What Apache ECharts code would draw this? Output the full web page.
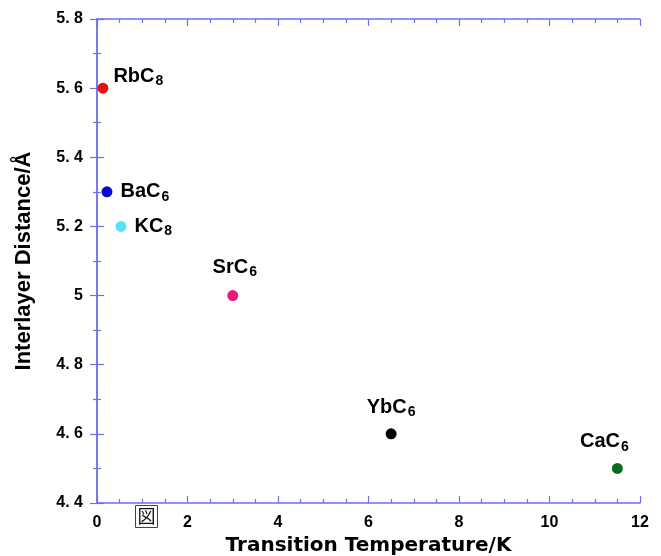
<!DOCTYPE html>
<html>
<head>
<meta charset="utf-8">
<script src="https://cdn.jsdelivr.net/npm/echarts@6/dist/echarts.min.js"></script>
<style>
  html, body { margin: 0; padding: 0; background: #fff; }
  #chart { width: 661px; height: 556px; }
</style>
</head>
<body>
<div id="chart"></div>
<script>
// compounds and their values
let names = ['RbC', 'BaC', 'KC', 'SrC', 'YbC', 'CaC']
let subs = ['8', '6', '8', '6', '6', '6']
let temps = [0.13, 0.22, 0.53, 3.0, 6.5, 11.5]
let distances = [5.6, 5.3, 5.2, 5.0, 4.6, 4.5]
let xTicks = ['0', '2', '4', '6', '8', '10', '12']
let yTicks = ['4.4', '4.6', '4.8', '5', '5.2', '5.4', '5.6', '5.8']

let colors = ['#e8100f', '#0a0acc', '#55e4f4', '#ea1a7e', '#000000', '#0b6b22']
let axisColor = '#6f6fee'

// where each label sits relative to its point
let labelPos = {
  RbC: { position: 'right', offset: [0, -12] },
  BaC: { position: 'right', offset: [3, 0] },
  KC: { position: 'right', offset: [3, 0] },
  SrC: { position: 'top', offset: [2, -6] },
  YbC: { position: 'top', offset: [0, -4] },
  CaC: { position: 'top', offset: [-13, -4] }
}

let points = names.map((n, i) => {
  return {
    value: [temps[i], distances[i]],
    name: n,
    itemStyle: { color: colors[i], opacity: 1 },
    label: Object.assign({
      show: true,
      color: '#000',
      formatter: '{m|' + n + '}{s|' + subs[i] + '}'
    }, labelPos[n])
  }
})

let tickFont = { fontFamily: 'Liberation Sans', fontWeight: 'bold', fontSize: 16, color: '#000' }

function baseX (extra) {
  return Object.assign({
    type: 'value', min: 0, max: 12, interval: 2,
    axisLine: { show: true, lineStyle: { color: axisColor, width: 1.5 } },
    axisTick: { show: true, inside: true, length: 7, lineStyle: { color: axisColor, width: 1.2 } },
    minorTick: { show: true, splitNumber: 4, length: 4, lineStyle: { color: axisColor, width: 1.2 } },
    splitLine: { show: false }
  }, extra)
}
function baseY (extra) {
  return Object.assign({
    type: 'value', min: 4.4, max: 5.8, interval: 0.2,
    axisLine: { show: true, lineStyle: { color: axisColor, width: 1.5 } },
    axisTick: { show: true, inside: true, length: 7, lineStyle: { color: axisColor, width: 1.2 } },
    minorTick: { show: true, splitNumber: 2, length: 4, lineStyle: { color: axisColor, width: 1.2 } },
    splitLine: { show: false }
  }, extra)
}

let myChart = echarts.init(document.getElementById('chart'), null, { renderer: 'canvas' })
myChart.setOption({
  animation: false,
  grid: { left: 97, right: 21, top: 19, bottom: 53, containLabel: false, outerBoundsMode: 'none' },
  xAxis: [
    baseX({
      position: 'bottom',
      name: 'Transition Temperature/K',
      nameLocation: 'middle',
      nameGap: 33,
      nameTextStyle: { fontFamily: 'DejaVu Sans', fontWeight: 'bold', fontSize: 20, color: '#000' },
      axisLabel: Object.assign({ margin: 12, formatter: (v) => xTicks[Math.round(v / 2)] }, tickFont)
    }),
    baseX({ position: 'top', axisLabel: { show: false } })
  ],
  yAxis: [
    baseY({
      position: 'left',
      name: 'Interlayer Distance/Å',
      nameLocation: 'middle',
      nameGap: 62,
      nameTextStyle: { fontFamily: 'Liberation Sans', fontWeight: 'bold', fontSize: 22, color: '#000' },
      axisLabel: Object.assign({
        margin: 14,
        formatter: (v) => yTicks[Math.round((v - 4.4) / 0.2)].replace('.', '. ')
      }, tickFont)
    }),
    baseY({ position: 'right', axisLabel: { show: false } })
  ],
  series: [{
    type: 'scatter',
    xAxisIndex: 0,
    yAxisIndex: 0,
    symbolSize: 11,
    label: {
      rich: {
        m: { fontFamily: 'Liberation Sans', fontWeight: 'bold', fontSize: 20, color: '#000' },
        s: { fontFamily: 'Liberation Sans', fontWeight: 'bold', fontSize: 14, color: '#000', padding: [10, 0, 0, 1] }
      }
    },
    data: points
  }],
  graphic: [{
    type: 'group',
    left: 135,
    top: 505,
    children: [
      { type: 'rect', shape: { x: 0, y: 0, width: 22, height: 22 }, style: { fill: '#fff', stroke: '#444', lineWidth: 1 } },
      { type: 'text', x: 11, y: 11, style: { text: '図', font: '18px "Noto Sans CJK JP"', fill: '#111', align: 'center', verticalAlign: 'middle' } }
    ]
  }]
})
</script>
</body>
</html>
